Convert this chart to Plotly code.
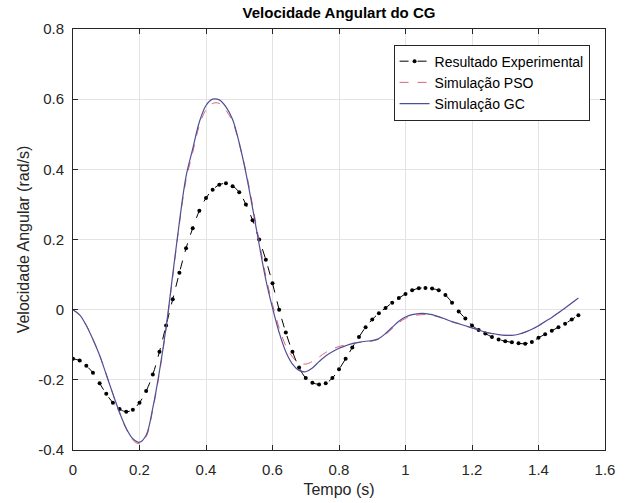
import plotly.graph_objects as go

# Time grid (s)
t = [round(i * 0.02, 2) for i in range(77)]  # 0.00 .. 1.52

exp_vals = [
    -0.140, -0.145, -0.160, -0.180, -0.210, -0.240, -0.265, -0.283, -0.291, -0.285,
    -0.265, -0.232, -0.185, -0.120, -0.045, 0.030, 0.105, 0.175, 0.232, 0.282,
    0.318, 0.342, 0.356, 0.360, 0.352, 0.335, 0.300, 0.255, 0.200, 0.142,
    0.075, 0.000, -0.065, -0.120, -0.165, -0.195, -0.208, -0.213, -0.210, -0.195,
    -0.170, -0.140, -0.108, -0.078, -0.050, -0.028, -0.010, 0.005, 0.020, 0.033,
    0.045, 0.055, 0.061, 0.062, 0.060, 0.055, 0.042, 0.020, -0.005, -0.025,
    -0.045, -0.058, -0.068, -0.078, -0.085, -0.090, -0.093, -0.096, -0.097, -0.092,
    -0.080, -0.070, -0.060, -0.050, -0.040, -0.028, -0.016,
]

pso_vals = [
    0.000, -0.015, -0.044, -0.084, -0.130, -0.184, -0.240, -0.294, -0.340, -0.372,
    -0.382, -0.362, -0.285, -0.180, -0.055, 0.095, 0.245, 0.370, 0.448, 0.525,
    0.570, 0.588, 0.588, 0.568, 0.536, 0.472, 0.395, 0.298, 0.195, 0.095,
    0.015, -0.052, -0.103, -0.135, -0.152, -0.155, -0.148, -0.135, -0.122, -0.112,
    -0.105, -0.100, -0.096, -0.093, -0.091, -0.089, -0.084, -0.071, -0.054, -0.037,
    -0.025, -0.018, -0.015, -0.014, -0.016, -0.021, -0.027, -0.034, -0.040, -0.046,
    -0.052, -0.058, -0.064, -0.068, -0.071, -0.073, -0.073, -0.070, -0.064, -0.056,
    -0.046, -0.034, -0.022, -0.009, 0.005, 0.019, 0.034,
]

gc_vals = [
    0.000, -0.015, -0.045, -0.085, -0.130, -0.185, -0.240, -0.293, -0.338, -0.368,
    -0.378, -0.358, -0.280, -0.175, -0.050, 0.100, 0.250, 0.380, 0.458, 0.535,
    0.582, 0.600, 0.598, 0.578, 0.542, 0.475, 0.390, 0.290, 0.185, 0.085,
    0.005, -0.065, -0.120, -0.155, -0.173, -0.177, -0.166, -0.148, -0.132, -0.120,
    -0.110, -0.103, -0.097, -0.093, -0.090, -0.088, -0.082, -0.068, -0.050, -0.033,
    -0.021, -0.014, -0.011, -0.011, -0.014, -0.020, -0.027, -0.034, -0.040, -0.046,
    -0.052, -0.058, -0.064, -0.068, -0.071, -0.073, -0.073, -0.070, -0.064, -0.056,
    -0.046, -0.034, -0.022, -0.009, 0.005, 0.019, 0.033,
]

x_ticks = [0, 0.2, 0.4, 0.6, 0.8, 1, 1.2, 1.4, 1.6]
x_tick_text = ["0", "0.2", "0.4", "0.6", "0.8", "1", "1.2", "1.4", "1.6"]
y_ticks = [-0.4, -0.2, 0, 0.2, 0.4, 0.6, 0.8]
y_tick_text = ["-0.4", "-0.2", "0", "0.2", "0.4", "0.6", "0.8"]

FONT = "Liberation Sans, Arial, sans-serif"
TXT = "#262626"

fig = go.Figure()
fig.add_trace(go.Scatter(
    x=t, y=exp_vals, name="Resultado Experimental", mode="lines+markers",
    line=dict(color="#000000", width=1, dash="dash", shape="spline"),
    marker=dict(color="#000000", size=4),
))
fig.add_trace(go.Scatter(
    x=t, y=pso_vals, name="Simulação PSO", mode="lines",
    line=dict(color="#dc6478", width=1, dash="dash", shape="spline"),
))
fig.add_trace(go.Scatter(
    x=t, y=gc_vals, name="Simulação GC", mode="lines",
    line=dict(color="#4f4f96", width=1.2, shape="spline"),
))

axis_common = dict(
    showgrid=True, gridcolor="#e3e3e3", gridwidth=1,
    showline=True, linecolor="#262626", linewidth=1, mirror="ticks",
    ticks="inside", ticklen=5, tickcolor="#262626", automargin=False,
    zeroline=False, tickfont=dict(family=FONT, size=15, color=TXT),
)

fig.update_layout(
    width=627, height=503,
    margin=dict(l=73, r=22, t=29, b=53),
    paper_bgcolor="white", plot_bgcolor="white",
    font=dict(family=FONT, color=TXT),
    title=dict(text="<b>Velocidade Angulart do CG</b>", x=0.5, xref="paper",
               y=0.974, yref="container", yanchor="middle",
               font=dict(family=FONT, size=15, color="#000000")),
    xaxis=dict(range=[0, 1.6], tickvals=x_ticks, ticktext=x_tick_text,
               ticklabelstandoff=6,
               title=dict(text="Tempo (s)", font=dict(family=FONT, size=16, color=TXT), standoff=6),
               **axis_common),
    yaxis=dict(range=[-0.4, 0.8], tickvals=y_ticks, ticktext=y_tick_text,
               ticklabelstandoff=5,
               title=dict(text="Velocidade Angular (rad/s)", font=dict(family=FONT, size=16, color=TXT), standoff=4),
               **axis_common),
    legend=dict(x=0.971, y=0.963, xanchor="right", yanchor="top",
                bgcolor="white", bordercolor="#262626", borderwidth=1,
                font=dict(family=FONT, size=14, color="#000000"),
                tracegroupgap=0, itemwidth=30),
    showlegend=True,
)

fig.write_html(
    "out.html",
    config={"displayModeBar": False},
    post_script="document.body.style.margin='0';document.body.style.padding='0';",
)
